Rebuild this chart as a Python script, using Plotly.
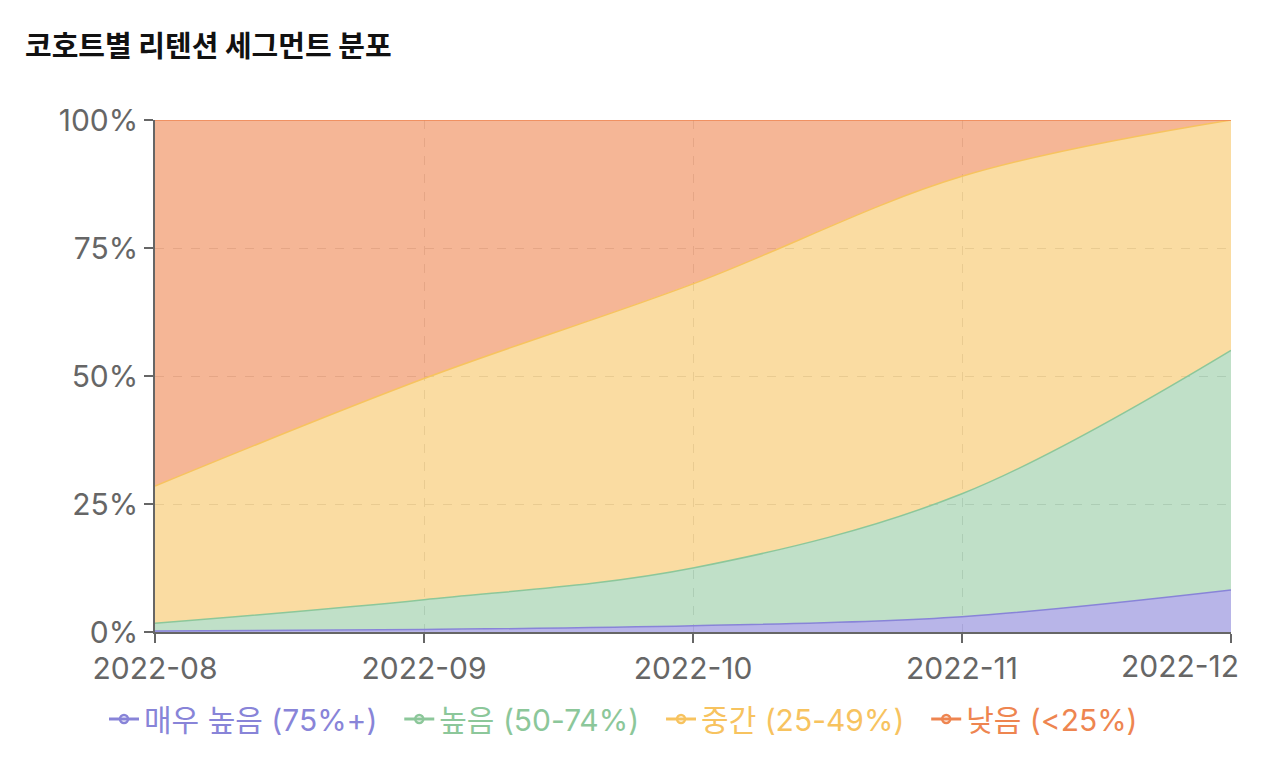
import plotly.graph_objects as go

# cohort months
months = ["2022-08", "2022-09", "2022-10", "2022-11", "2022-12"]

# share of users per retention segment (percent of cohort)
very_high = [0.2, 0.5, 1.2, 3.0, 8.2]
high = [1.5, 5.8, 11.3, 24.0, 46.8]
mid = [26.8, 43.2, 55.5, 62.0, 45.0]
low = [71.5, 50.5, 32.0, 11.0, 0.0]

y_ticks = [0, 25, 50, 75, 100]
y_labels = ["0%", "25%", "50%", "75%", "100%"]

series = [
    ("매우 높음 (75%+)", very_high, "#8884d8", "rgba(136,132,216,0.6)"),
    ("높음 (50-74%)", high, "#8cc79a", "rgba(140,199,154,0.55)"),
    ("중간 (25-49%)", mid, "#f7c35f", "rgba(247,195,95,0.58)"),
    ("낮음 (<25%)", low, "#ee8550", "rgba(238,133,80,0.6)"),
]

font = "Inter, Noto Sans CJK KR, sans-serif"
tick_col = "#666666"

fig = go.Figure()
for name, vals, color, fill in series:
    fig.add_trace(go.Scatter(
        x=months, y=vals, name=name,
        stackgroup="one", mode="lines",
        line=dict(color=color, width=1.5, shape="spline", smoothing=1),
        fillcolor=fill, showlegend=False,
        hovertemplate="%{y:.1f}%<extra>" + name + "</extra>",
    ))

# legend entries: line with open circle, label in series colour
for name, _, color, _ in series:
    fig.add_trace(go.Scatter(
        x=[None], y=[None], mode="lines+markers",
        name=f"<span style='color:{color}'>{name}</span>&nbsp;&nbsp;",
        line=dict(color=color, width=3),
        marker=dict(symbol="circle-open", size=8, color=color, line=dict(width=2.5)),
        showlegend=True, hoverinfo="skip",
    ))

# last month label is pulled inside the chart like the original
x_labels = months[:-1] + [""]
fig.add_annotation(
    x=months[-1], y=0, xref="x", yref="y",
    text=months[-1], showarrow=False,
    xanchor="right", yanchor="top", xshift=10, yshift=-14,
    font=dict(size=30, color=tick_col, family=font),
)

fig.update_layout(
    width=1266, height=770,
    paper_bgcolor="white", plot_bgcolor="white",
    margin=dict(l=147, r=43, t=112, b=146, autoexpand=False),
    font=dict(family=font, color=tick_col),
    title=dict(
        text="<b>코호트별 리텐션 세그먼트 분포</b>",
        x=17 / 1266, xanchor="left", xref="container",
        y=1 - 39 / 770, yanchor="middle", yref="container",
        font=dict(size=29, color="#111111", family="Noto Sans CJK KR, sans-serif"),
    ),
    showlegend=True,
    legend=dict(
        orientation="h", xref="container", x=624 / 1266, xanchor="center",
        yref="container", y=1 - 711 / 770, yanchor="middle",
        font=dict(size=30, family=font),
        itemwidth=30, traceorder="normal",
    ),
    xaxis=dict(
        type="category", range=[0, 4], automargin=False,
        tickvals=months, ticktext=x_labels,
        showline=True, linecolor=tick_col, linewidth=1.5,
        ticks="outside", ticklen=9, tickcolor=tick_col, tickwidth=1.5,
        tickfont=dict(size=30, color=tick_col),
        showgrid=True, gridcolor="rgba(0,0,0,0.16)", griddash="dash", gridwidth=1.2,
        zeroline=False,
    ),
    yaxis=dict(
        range=[0, 100], tickvals=y_ticks, ticktext=y_labels, automargin=False,
        showline=True, linecolor=tick_col, linewidth=1.5,
        ticks="outside", ticklen=9, tickcolor=tick_col, tickwidth=1.5,
        tickfont=dict(size=30, color=tick_col),
        showgrid=True, gridcolor="rgba(0,0,0,0.16)", griddash="dash", gridwidth=1.2,
        zeroline=False,
    ),
)

fig.write_html("out.html")
